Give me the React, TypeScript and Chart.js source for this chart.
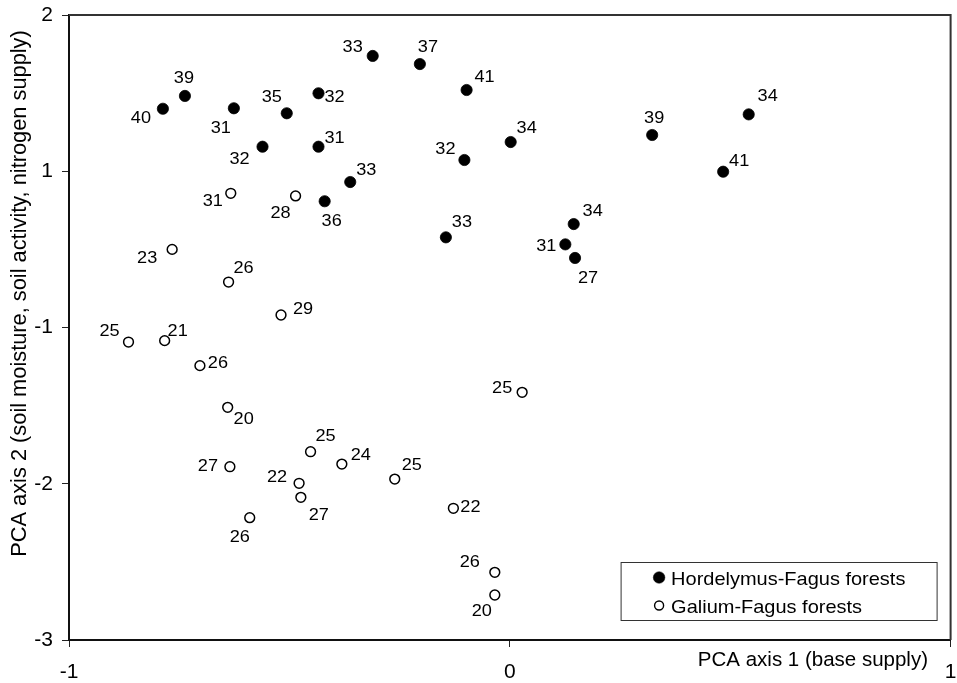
import React, { useEffect, useRef } from 'react';
import { Chart, registerables } from 'chart.js';

Chart.register(...registerables);

// ---------- data ----------
const SERIES_NAMES = ['Hordelymus-Fagus forests', 'Galium-Fagus forests'];

// Hordelymus-Fagus forests (filled circles)
const HORD_X = [-0.787, -0.737, -0.626, -0.506, -0.561, -0.434, -0.434, -0.311, -0.204, -0.098, -0.103, 0.002, -0.362, -0.42, -0.145, 0.145, 0.126, 0.148, 0.323, 0.542, 0.484];
const HORD_Y = [0.4, 0.482, 0.403, 0.371, 0.157, 0.499, 0.157, 0.738, 0.686, 0.52, 0.072, 0.187, -0.069, -0.192, -0.423, -0.338, -0.468, -0.555, 0.232, 0.364, -0.003];
const HORD_LABELS = [40, 39, 31, 35, 32, 32, 31, 33, 37, 41, 32, 34, 33, 36, 33, 34, 31, 27, 39, 34, 41];

// Galium-Fagus forests (open circles)
const GAL_X = [-0.633, -0.486, -0.766, -0.638, -0.519, -0.865, -0.783, -0.703, -0.64, 0.028, -0.635, -0.452, -0.381, -0.261, -0.478, -0.474, -0.59, -0.128, -0.034, -0.034];
const GAL_Y = [-0.141, -0.158, -0.5, -0.709, -0.92, -1.093, -1.084, -1.244, -1.511, -1.415, -1.891, -1.795, -1.874, -1.97, -1.997, -2.087, -2.217, -2.157, -2.567, -2.712];
const GAL_LABELS = [31, 28, 23, 26, 29, 25, 21, 26, 20, 25, 27, 25, 24, 25, 22, 27, 26, 22, 26, 20];

// axis ticks
const X_TICK_VALUES = [-1, 0, 1];
const X_TICK_LABELS = ['-1', '0', '1'];
const Y_TICK_VALUES = [-3, -2, -1, 0, 1];
const Y_TICK_LABELS = ['-3', '-2', '-1', '1', '2'];

const X_TITLE = 'PCA axis 1 (base supply)';
const Y_TITLE = 'PCA axis 2 (soil moisture, soil activity, nitrogen supply)';

// label placement (pixel offsets of each number from its marker)
const HORD_LABEL_OFFSETS: [number, number][] = [
  [-22, 8], [-1, -19], [-13, 19], [-15, -17], [-23, 11], [16, 3], [16, -10], [-20, -10],
  [8, -18], [18, -14], [-19, -12], [16, -15], [16, -13], [7, 19], [16, -16], [19, -14],
  [-19, 1], [13, 19], [2, -18], [19, -19], [16, -12],
];
const GAL_LABEL_OFFSETS: [number, number][] = [
  [-18, 7], [-15, 16], [-25, 8], [15, -15], [22, -7], [-19, -12], [13, -11], [18, -4],
  [16, 11], [-20, -5], [-22, -2], [15, -17], [19, -10], [17, -15], [-22, -7], [18, 17],
  [-10, 18], [17, -2], [-25, -11], [-13, 15],
];

const FONT = "'Liberation Sans', Arial, Helvetica, sans-serif";

function drawText(
  ctx: CanvasRenderingContext2D,
  text: string,
  x: number,
  y: number,
  size: number,
  align: CanvasTextAlign,
  sx = 1,
) {
  ctx.save();
  ctx.font = `${size}px ${FONT}`;
  ctx.textAlign = align;
  ctx.textBaseline = 'alphabetic';
  ctx.fillStyle = '#000';
  ctx.translate(x, y);
  ctx.scale(sx, 1);
  ctx.fillText(text, 0, 0);
  ctx.restore();
}

const decorPlugin = {
  id: 'decor',
  beforeDatasetsDraw(chart: any) {
    const { ctx, chartArea: a } = chart;
    ctx.save();
    ctx.strokeStyle = '#333';
    ctx.lineWidth = 2;
    ctx.beginPath();
    ctx.moveTo(a.left, a.top);
    ctx.lineTo(a.right, a.top);
    ctx.lineTo(a.right, a.bottom);
    ctx.stroke();
    ctx.restore();
  },
  afterDatasetsDraw(chart: any) {
    const { ctx } = chart;
    const size = 16.5;
    chart.data.datasets.forEach((ds: any, di: number) => {
      const meta = chart.getDatasetMeta(di);
      meta.data.forEach((el: any, i: number) => {
        const [dx, dy] = ds.labelOffsets[i];
        drawText(ctx, String(ds.pointLabels[i]), el.x + dx, el.y + dy + 0.358 * size, size, 'center', 1.1);
      });
    });
  },
  afterDraw(chart: any) {
    const { ctx, chartArea: a } = chart;
    // x-axis title
    drawText(ctx, X_TITLE, 928, 666, 20.5, 'right');
    // y-axis title (rotated)
    ctx.save();
    ctx.translate(26, 293.5);
    ctx.rotate(-Math.PI / 2);
    drawText(ctx, Y_TITLE, 0, 0, 21.8, 'center');
    ctx.restore();

    // legend box
    const bx = a.right - 329.5;
    const by = a.bottom - 77.5;
    const bw = 316;
    const bh = 58;
    ctx.save();
    ctx.fillStyle = '#fff';
    ctx.fillRect(bx, by, bw, bh);
    ctx.strokeStyle = '#333';
    ctx.lineWidth = 1;
    ctx.strokeRect(bx, by, bw, bh);
    ctx.restore();
    const rows = [by + 15, by + 43];
    chart.data.datasets.forEach((ds: any, di: number) => {
      const cy = rows[di];
      const cx = bx + 38;
      ctx.save();
      ctx.beginPath();
      ctx.arc(cx, cy, di === 0 ? 5.8 : 4.5, 0, Math.PI * 2);
      ctx.fillStyle = ds.pointBackgroundColor;
      ctx.fill();
      if (ds.pointBorderWidth > 0) {
        ctx.lineWidth = di === 0 ? 0.5 : 1.4;
        ctx.strokeStyle = ds.pointBorderColor;
        ctx.stroke();
      }
      ctx.restore();
      drawText(ctx, ds.label, bx + 50, cy + 7, 18.5, 'left', 1.08);
    });
  },
};

export default function App() {
  const ref = useRef<HTMLCanvasElement>(null);

  useEffect(() => {
    const canvas = ref.current;
    if (!canvas) return;

    const hordData = HORD_X.map((x, i) => ({ x, y: HORD_Y[i] }));
    const galData = GAL_X.map((x, i) => ({ x, y: GAL_Y[i] }));

    const chart = new Chart(canvas, {
      type: 'scatter',
      data: {
        datasets: [
          {
            label: SERIES_NAMES[0],
            data: hordData,
            pointStyle: 'circle',
            pointRadius: 5.6,
            pointHoverRadius: 5.6,
            pointBackgroundColor: '#000',
            pointBorderColor: '#000',
            pointBorderWidth: 0.8,
            pointLabels: HORD_LABELS,
            labelOffsets: HORD_LABEL_OFFSETS,
          } as any,
          {
            label: SERIES_NAMES[1],
            data: galData,
            pointStyle: 'circle',
            pointRadius: 4.9,
            pointHoverRadius: 4.9,
            pointBackgroundColor: '#fff',
            pointBorderColor: '#000',
            pointBorderWidth: 1.5,
            pointLabels: GAL_LABELS,
            labelOffsets: GAL_LABEL_OFFSETS,
          } as any,
        ],
      },
      options: {
        responsive: false,
        maintainAspectRatio: false,
        animation: false,
        devicePixelRatio: 1,
        layout: { padding: { top: 15, right: 5, left: 0, bottom: 0 } },
        plugins: {
          legend: { display: false },
          tooltip: { enabled: false },
        },
        events: [],
        scales: {
          x: {
            type: 'linear',
            min: -1,
            max: 1,
            ticks: {
              stepSize: 1,
              padding: 13,
              color: '#000',
              maxRotation: 0,
              autoSkip: false,
              font: { family: FONT, size: 21 },
              callback: (v: any) => {
                const i = X_TICK_VALUES.indexOf(Math.round(Number(v)));
                return i >= 0 ? X_TICK_LABELS[i] : '';
              },
            },
            grid: {
              display: true,
              drawOnChartArea: false,
              drawTicks: true,
              tickLength: 7,
              color: '#222',
              lineWidth: 1,
            },
            border: { display: true, color: '#111', width: 2 },
            afterFit: (s: any) => {
              s.height = 43;
              s.paddingLeft = 0;
              s.paddingRight = 0;
            },
          },
          y: {
            type: 'linear',
            min: -3,
            max: 1,
            ticks: {
              stepSize: 1,
              padding: 9,
              color: '#000',
              autoSkip: false,
              font: { family: FONT, size: 21 },
              callback: (v: any) => {
                const i = Y_TICK_VALUES.indexOf(Math.round(Number(v)));
                return i >= 0 ? Y_TICK_LABELS[i] : '';
              },
            },
            grid: {
              display: true,
              drawOnChartArea: false,
              drawTicks: true,
              tickLength: 7,
              color: '#222',
              lineWidth: 1,
            },
            border: { display: true, color: '#111', width: 2 },
            afterFit: (s: any) => {
              s.width = 69;
              s.paddingTop = 0;
              s.paddingBottom = 0;
            },
          },
        },
      } as any,
      plugins: [decorPlugin],
    });

    return () => chart.destroy();
  }, []);

  return (
    <div style={{ position: 'absolute', left: 0, top: 0, width: 957, height: 683, background: '#fff' }}>
      <canvas ref={ref} width={957} height={683} style={{ display: 'block', width: '957px', height: '683px' }} />
    </div>
  );
}
